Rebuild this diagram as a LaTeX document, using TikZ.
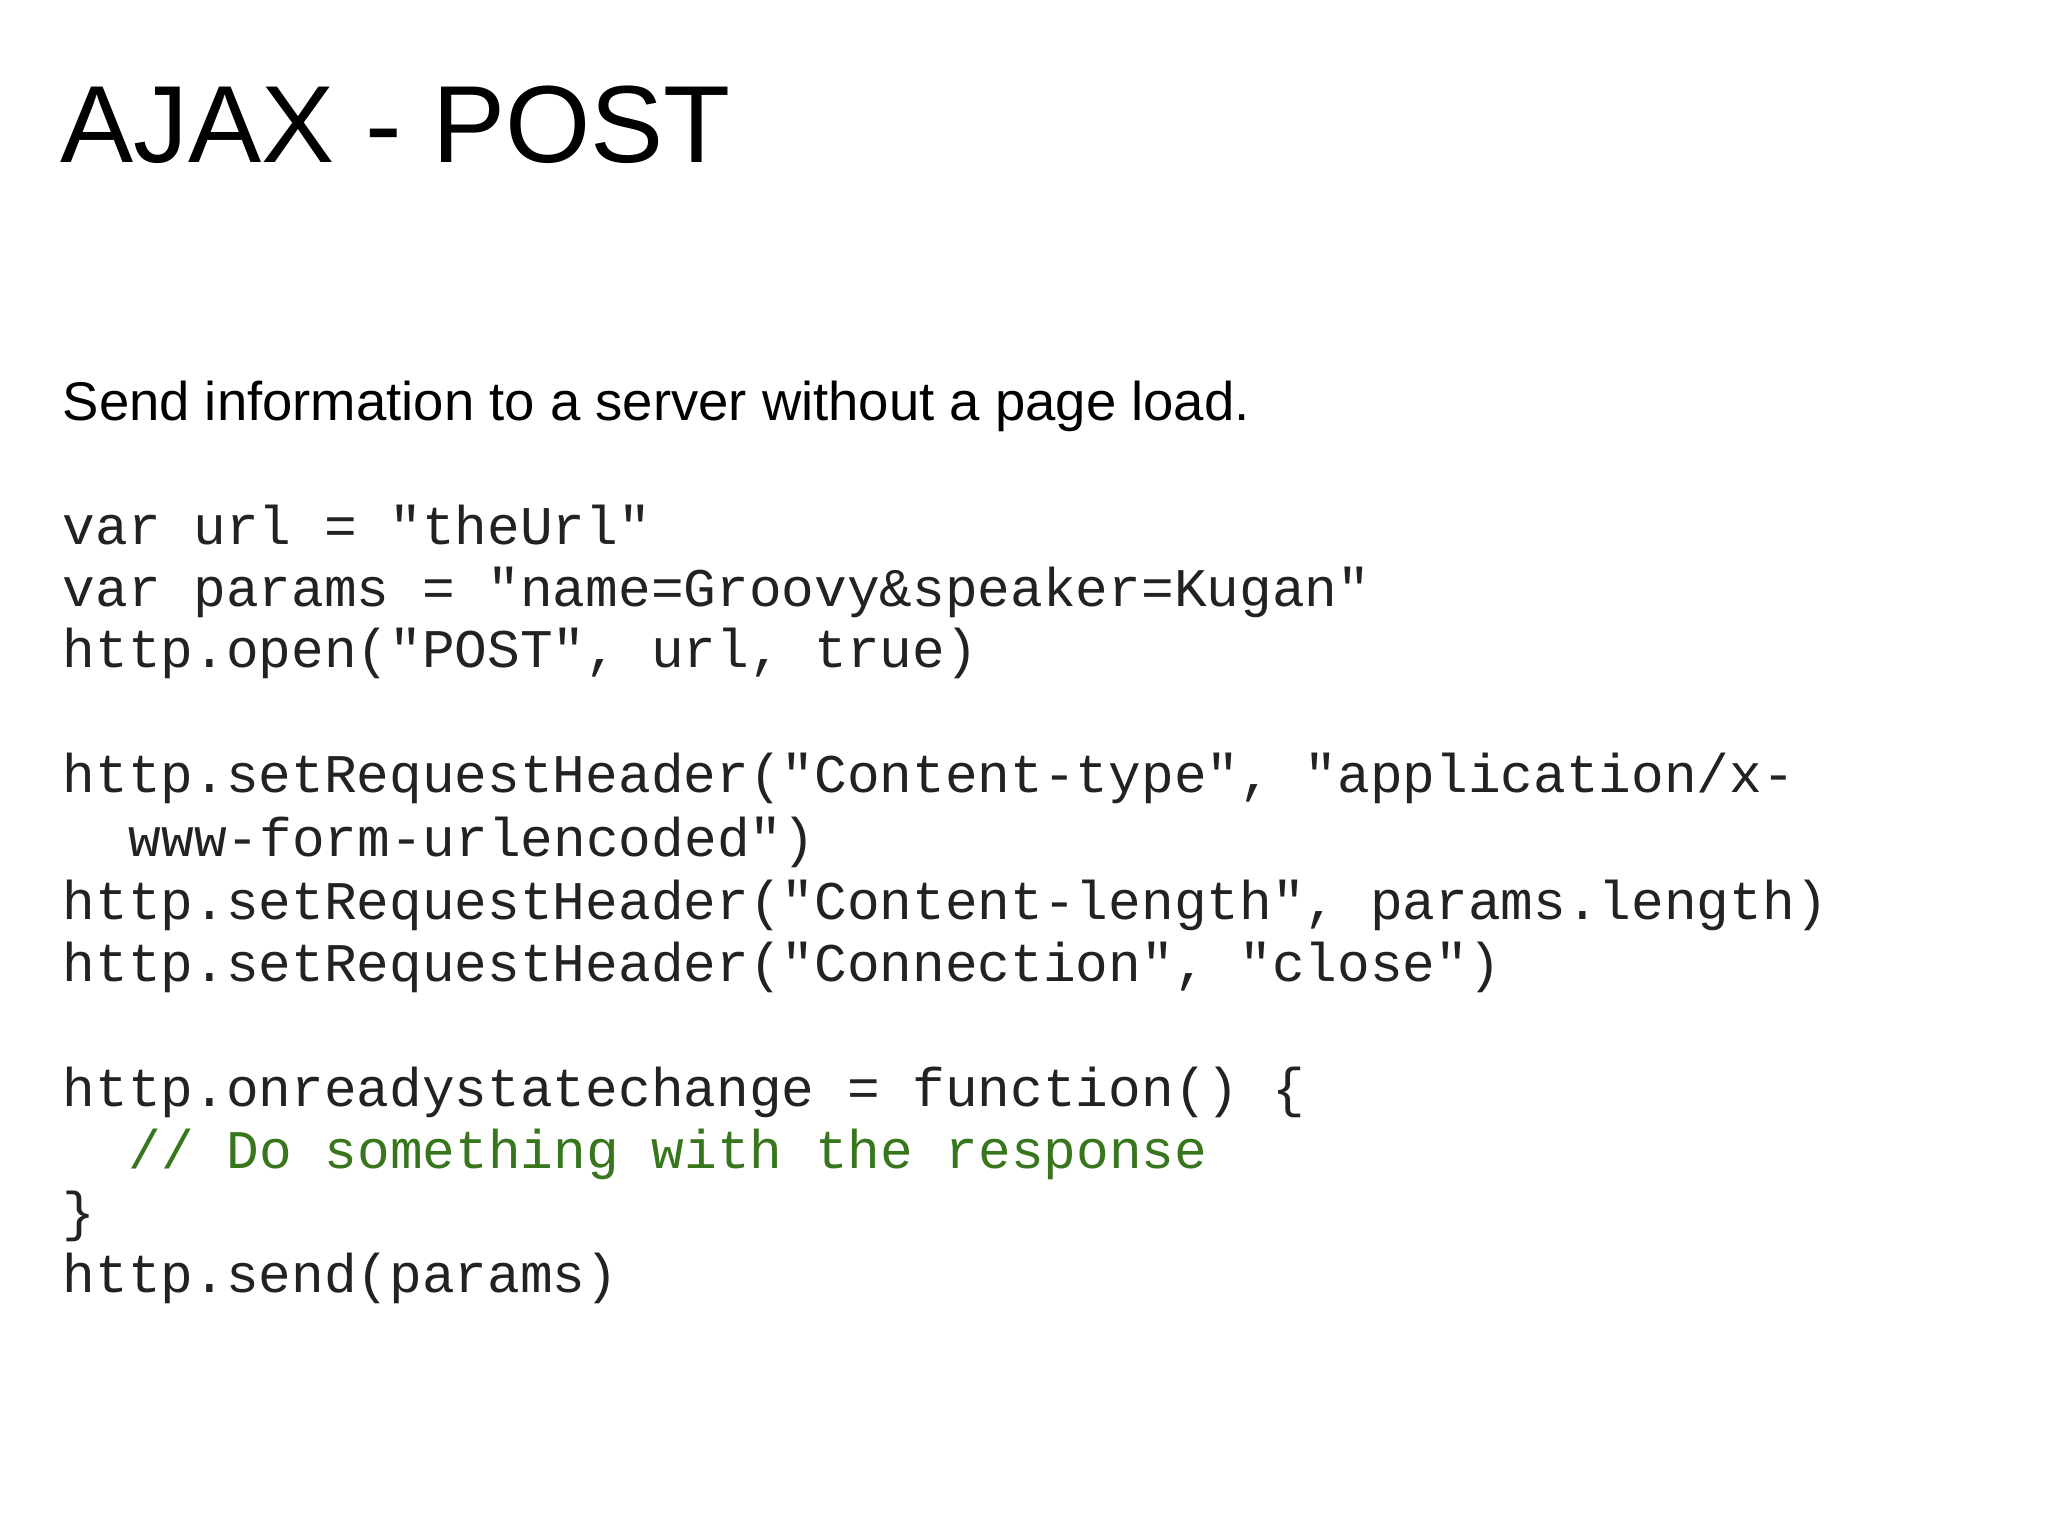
\documentclass[tikz,border=0pt]{standalone}
\usepackage{fontspec}
\setmainfont{Liberation Sans}
\newfontfamily\codefont{Liberation Mono}
\definecolor{cmt}{HTML}{38761D}
\definecolor{codec}{HTML}{222222}
\begin{document}
\begin{tikzpicture}[x=1cm,y=1cm,
  code/.style={anchor=base west,inner sep=0pt,font=\codefont\fontsize{15.5}{15.5}\selectfont,text=codec}]
\useasboundingbox[fill=white] (0,0) rectangle (20.48,-15.36);
\node[anchor=base west,inner sep=0pt,font=\fontsize{31.2}{31.2}\selectfont] (title) at (0.60,-1.63) {AJAX - POST};
\node[anchor=base west,inner sep=0pt,font=\fontsize{15.5}{15.5}\selectfont] (sub) at (0.62,-4.21) {Send information to a server without a page load.};
\node[code] (l1) at (0.62,-5.44) {var url = "theUrl"};
\node[code] (l2) at (0.62,-6.06) {var params = "name=Groovy\&speaker=Kugan"};
\node[code] (l3) at (0.62,-6.68) {http.open("POST", url, true)};
\node[code] (l4) at (0.62,-7.93) {http.setRequestHeader("Content-type", "application/x-};
\node[code] (l5) at (1.28,-8.56) {www-form-urlencoded")};
\node[code] (l6) at (0.62,-9.19) {http.setRequestHeader("Content-length", params.length)};
\node[code] (l7) at (0.62,-9.81) {http.setRequestHeader("Connection", "close")};
\node[code] (l8) at (0.62,-11.06) {http.onreadystatechange = function() \{};
\node[code,text=cmt] (l9) at (1.28,-11.68) {// Do something with the response};
\node[code] (l10) at (0.62,-12.30) {\}};
\node[code] (l11) at (0.62,-12.92) {http.send(params)};
\end{tikzpicture}
\end{document}
